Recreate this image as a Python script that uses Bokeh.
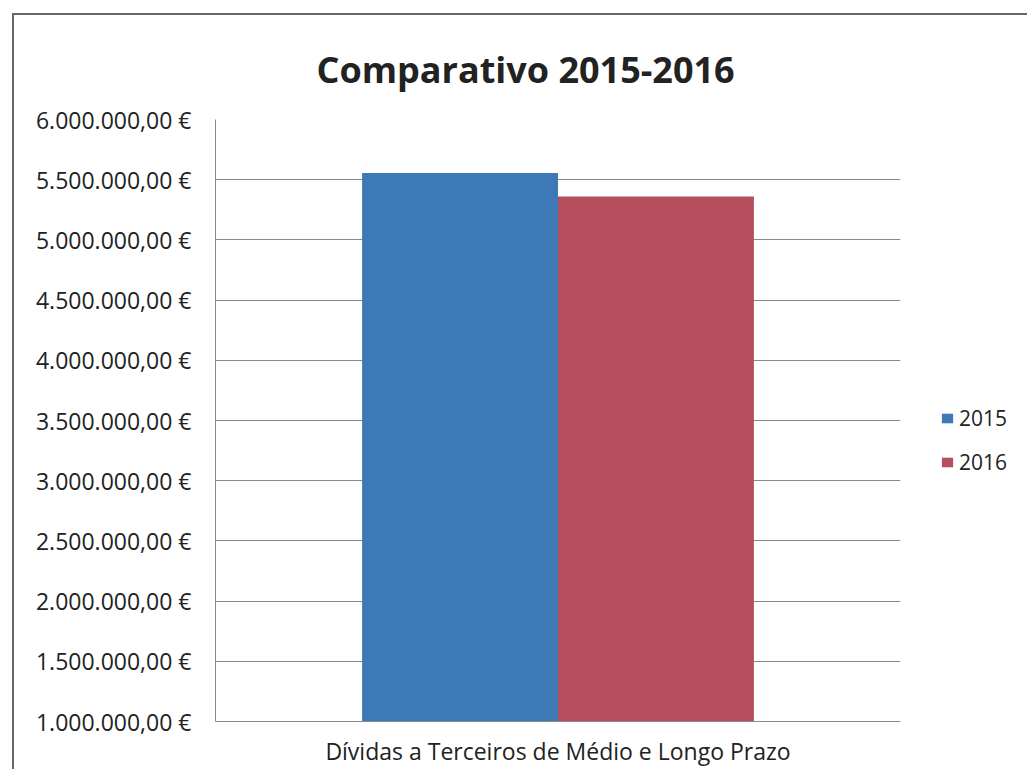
from bokeh.plotting import figure
from bokeh.models import FactorRange, Range1d, FixedTicker, Legend, LegendItem, ColumnDataSource
from bokeh.transform import dodge
from bokeh.embed import file_html
from bokeh.resources import INLINE

title_text = "Comparativo 2015-2016"
categories = ["Dívidas a Terceiros de Médio e Longo Prazo"]
years = ["2015", "2016"]
values_2015 = [5555000]
values_2016 = [5360000]
colors = ["#3c79b6", "#b64f5d"]
y_ticks = [1000000, 1500000, 2000000, 2500000, 3000000, 3500000,
           4000000, 4500000, 5000000, 5500000, 6000000]


def fmt_eur(v):
    s = f"{v:,.2f}"
    s = s.replace(",", "X").replace(".", ",").replace("X", ".")
    return s + " €"


FONT = "Open Sans"

p = figure(frame_width=685, frame_height=602, output_backend="svg", toolbar_location=None,
           x_range=FactorRange(*categories), y_range=Range1d(1000000, 6000000),
           min_border_left=201, min_border_right=110, min_border_top=104,
           min_border_bottom=48)
p.styles = {"border-left": "2px solid #666", "border-top": "2px solid #666",
            "margin-left": "12px", "margin-top": "13px"}

p.title.text = title_text
p.title.align = "left"
p.title.offset = 101
p.title.text_font = FONT
p.title.text_font_size = "36px"
p.title.text_font_style = "bold"
p.title.text_color = "#222222"
p.title.standoff = 52

src = ColumnDataSource(dict(cat=categories, v15=values_2015, v16=values_2016))
r1 = p.vbar(x=dodge("cat", -0.143, range=p.x_range), top="v15", bottom=1000000,
            width=0.286, source=src, fill_color=colors[0], line_color=None)
r2 = p.vbar(x=dodge("cat", 0.143, range=p.x_range), top="v16", bottom=1000000,
            width=0.286, source=src, fill_color=colors[1], line_color=None)

p.yaxis.ticker = FixedTicker(ticks=y_ticks)
p.yaxis.major_label_overrides = {t: fmt_eur(t) for t in y_ticks}
p.yaxis.major_label_text_font = FONT
p.yaxis.major_label_text_font_size = "23px"
p.yaxis.major_label_text_color = "#222222"
p.yaxis.major_tick_line_color = None
p.yaxis.minor_tick_line_color = None
p.yaxis.major_label_standoff = 18
p.yaxis.axis_line_color = "#8a8a8a"

p.xaxis.major_label_text_font = FONT
p.xaxis.major_label_text_font_size = "23px"
p.xaxis.major_label_text_color = "#222222"
p.xaxis.major_tick_line_color = None
p.xaxis.minor_tick_line_color = None
p.xaxis.major_label_standoff = 7
p.xaxis.axis_line_color = "#8a8a8a"

p.xgrid.grid_line_color = None
p.ygrid.grid_line_color = "#8a8a8a"
p.ygrid.grid_line_width = 1
p.outline_line_color = None

legend = Legend(items=[LegendItem(label=years[0], renderers=[r1]),
                       LegendItem(label=years[1], renderers=[r2])],
                location=(40, 245), orientation="vertical",
                label_text_font=FONT, label_text_font_size="21px",
                label_text_color="#222222", glyph_width=14, glyph_height=12,
                label_height=20, label_standoff=5, spacing=16, margin=0, padding=10,
                border_line_color=None, background_fill_alpha=0)
p.add_layout(legend, "right")

open("out.html", "w").write(file_html(p, INLINE))
